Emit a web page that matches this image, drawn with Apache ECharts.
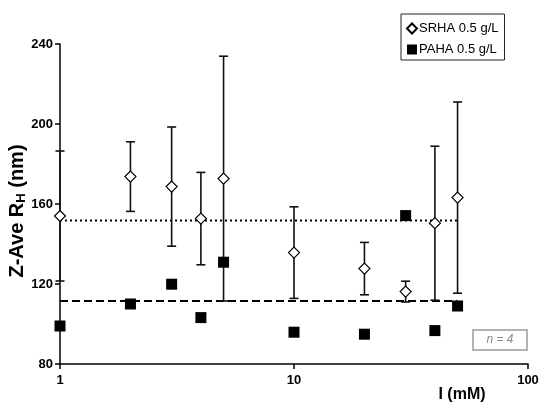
<!DOCTYPE html>
<html>
<head>
<meta charset="utf-8">
<script src="https://cdn.jsdelivr.net/npm/echarts@6/dist/echarts.min.js"></script>
<style>
html,body{margin:0;padding:0;background:#fff;}
#chart{width:542px;height:408px;}
</style>
</head>
<body>
<div id="chart"></div>
<script>
// ---- data ----
const ionicStrength = [1, 2, 3, 4, 5, 10, 20, 30, 40, 50];
const srhaValues = [154, 173.7, 168.7, 152.7, 172.7, 135.7, 127.7, 116.2, 150.4, 163.2];
const srhaErrors = [32.5, 17.4, 29.8, 23.1, 61.2, 22.9, 13.1, 5.2, 38.5, 47.8];
const pahaValues = [99, 110, 119.9, 103.2, 130.9, 95.9, 94.9, 154.2, 96.7, 109];
const srhaMean = 151.7;
const pahaMean = 111.5;
const meanRange = [1, 50];
const yTicks = [80, 120, 160, 200, 240];
const xTicks = [1, 10, 100];
const seriesNames = ['SRHA 0.5 g/L', 'PAHA 0.5 g/L'];

const FONT = 'Arial, "Liberation Sans", sans-serif';

const chart = echarts.init(document.getElementById('chart'), null, {renderer: 'canvas'});

const srhaData = ionicStrength.map((x, i) => [x, srhaValues[i]]);
const pahaData = ionicStrength.map((x, i) => [x, pahaValues[i]]);
const errData = ionicStrength.map((x, i) => [x, srhaValues[i] - srhaErrors[i], srhaValues[i] + srhaErrors[i]]);

const option = {
  animation: false,
  backgroundColor: '#fff',
  grid: {left: 60, right: 14, top: 44, bottom: 44, containLabel: false},
  xAxis: {
    type: 'log', logBase: 10, min: xTicks[0], max: xTicks[xTicks.length - 1],
    axisLine: {show: true, onZero: false, lineStyle: {color: '#000', width: 1.5}},
    axisTick: {show: true, inside: false, length: 5, lineStyle: {color: '#000', width: 1.5}},
    minorTick: {show: false},
    splitLine: {show: false},
    axisLabel: {color: '#000', fontFamily: FONT, fontWeight: 'bold', fontSize: 13, margin: 10}
  },
  yAxis: {
    type: 'value', min: yTicks[0], max: yTicks[yTicks.length - 1], interval: 40,
    axisLine: {show: true, lineStyle: {color: '#000', width: 1.5}},
    axisTick: {show: true, inside: false, length: 5, lineStyle: {color: '#000', width: 1.5}},
    splitLine: {show: false},
    axisLabel: {color: '#000', fontFamily: FONT, fontWeight: 'bold', fontSize: 13, margin: 7}
  },
  legend: {
    orient: 'vertical', left: 401, top: 14,
    data: seriesNames,
    borderColor: '#222', borderWidth: 1, backgroundColor: '#fff',
    padding: [8, 6, 4, 5], itemGap: 8, itemWidth: 10, itemHeight: 10,
    textStyle: {color: '#000', fontFamily: FONT, fontSize: 13, padding: [0, 0, 0, -3]}
  },
  graphic: [
    {
      type: 'text', x: 17, y: 211, rotation: Math.PI / 2,
      style: {
        text: '{a|Z-Ave R}{s|H}{a| (nm)}',
        align: 'center', verticalAlign: 'middle',
        rich: {
          a: {fontFamily: FONT, fontWeight: 'bold', fontSize: 20, fill: '#000', lineHeight: 22, verticalAlign: 'middle'},
          s: {fontFamily: FONT, fontWeight: 'bold', fontSize: 13, fill: '#000', lineHeight: 22, verticalAlign: 'bottom', padding: [11, 0, 0, 0]}
        }
      }
    },
    {
      type: 'text', x: 462, y: 395,
      style: {text: 'I (mM)', align: 'center', verticalAlign: 'middle', fontFamily: FONT, fontWeight: 'bold', fontSize: 16, fill: '#000'}
    },
    {
      type: 'rect', shape: {x: 473, y: 330, width: 54, height: 20},
      style: {fill: '#fff', stroke: '#9a9a9a', lineWidth: 1.5}
    },
    {
      type: 'text', x: 500, y: 340,
      style: {text: 'n = 4', align: 'center', verticalAlign: 'middle', fontFamily: FONT, fontStyle: 'italic', fontSize: 12, fill: '#8a8a8a'}
    }
  ],
  series: [
    {
      name: 'srhaMean', type: 'line', data: meanRange.map(x => [x, srhaMean]),
      symbol: 'none', silent: true, z: 1,
      lineStyle: {color: '#000', width: 2, type: [2, 3]}
    },
    {
      name: 'pahaMean', type: 'line', data: meanRange.map(x => [x, pahaMean]),
      symbol: 'none', silent: true, z: 1,
      lineStyle: {color: '#000', width: 2, type: [8, 4]}
    },
    {
      name: 'srhaErr', type: 'custom', z: 2, clip: false,
      data: errData,
      renderItem: function (params, api) {
        const x = api.value(0);
        const lo = api.coord([x, api.value(1)]);
        const hi = api.coord([x, api.value(2)]);
        const cw = 4.5;
        const st = {stroke: '#111', lineWidth: 1.6};
        return {
          type: 'group',
          children: [
            {type: 'line', shape: {x1: lo[0], y1: lo[1], x2: hi[0], y2: hi[1]}, style: st},
            {type: 'line', shape: {x1: lo[0] - cw, y1: lo[1], x2: lo[0] + cw, y2: lo[1]}, style: st},
            {type: 'line', shape: {x1: hi[0] - cw, y1: hi[1], x2: hi[0] + cw, y2: hi[1]}, style: st}
          ]
        };
      }
    },
    {
      name: seriesNames[0], type: 'scatter', data: srhaData, z: 3,
      symbol: 'diamond', symbolSize: 11,
      itemStyle: {color: '#fff', borderColor: '#000', borderWidth: 1.2, opacity: 1}
    },
    {
      name: seriesNames[1], type: 'scatter', data: pahaData, z: 4,
      symbol: 'rect', symbolSize: 11,
      itemStyle: {color: '#000', borderColor: '#000', borderWidth: 0, opacity: 1}
    }
  ]
};
chart.setOption(option);
</script>
</body>
</html>
